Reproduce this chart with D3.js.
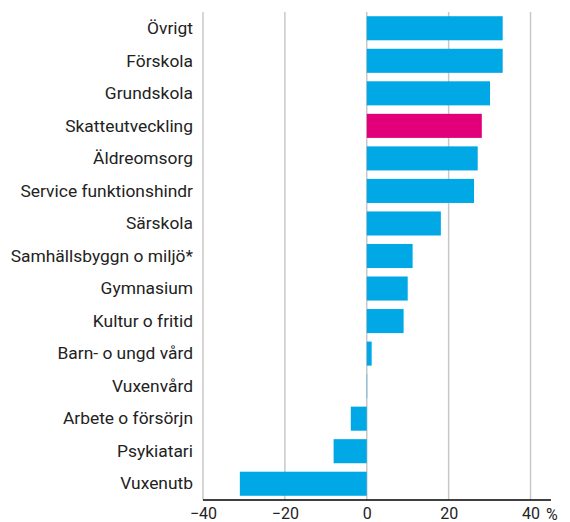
<!DOCTYPE html>
<html>
<head>
<meta charset="utf-8">
<script src="https://cdn.jsdelivr.net/npm/d3@7"></script>
<style>
  body { margin: 0; background: #fff; }
  .chart text { font-family: Roboto, sans-serif; fill: #222; }
</style>
</head>
<body>
<div class="chart"></div>
<script>
let categories = ['Övrigt', 'Förskola', 'Grundskola', 'Skatteutveckling', 'Äldreomsorg',
  'Service funktionshindr', 'Särskola', 'Samhällsbyggn o miljö*', 'Gymnasium',
  'Kultur o fritid', 'Barn- o ungd vård', 'Vuxenvård', 'Arbete o försörjn',
  'Psykiatari', 'Vuxenutb'];
let values = [33.2, 33.2, 30.1, 28.1, 27.1, 26.2, 18.1, 11.2, 10.0, 9.0, 1.2, 0.1, -3.9, -8.1, -31.0];
let highlight = 'Skatteutveckling';
let tickValues = [-40, -20, 0, 20, 40];

let width = 570;
let height = 522;
let plotLeft = 203, plotRight = 551, plotTop = 12, plotBottom = 500;

let svg = d3.select('.chart')
  .append('svg')
  .attr('width', width)
  .attr('height', height);

let xScale = d3.scaleLinear()
  .domain([-40, 45])
  .range([plotLeft, plotRight]);

let yScale = d3.scaleBand()
  .domain(categories)
  .range([plotTop, plotBottom])
  .paddingInner(0.26)
  .paddingOuter(0.13);

// gridlines
svg.append('g')
  .selectAll('line')
  .data(tickValues)
  .enter()
  .append('line')
  .attr('x1', d => xScale(d))
  .attr('x2', d => xScale(d))
  .attr('y1', plotTop)
  .attr('y2', plotBottom)
  .attr('stroke', '#c8c8c8')
  .attr('stroke-width', 1.5);

// bars
svg.append('g')
  .selectAll('rect')
  .data(categories)
  .enter()
  .append('rect')
  .attr('x', (d, i) => xScale(Math.min(0, values[i])))
  .attr('width', (d, i) => Math.abs(xScale(values[i]) - xScale(0)))
  .attr('y', d => yScale(d))
  .attr('height', yScale.bandwidth())
  .attr('fill', d => d == highlight ? '#e2007a' : '#00a9e6');

// category labels
svg.append('g')
  .selectAll('text')
  .data(categories)
  .enter()
  .append('text')
  .attr('x', plotLeft - 10)
  .attr('y', d => yScale(d) + yScale.bandwidth() / 2)
  .attr('dy', '.33em')
  .style('text-anchor', 'end')
  .style('font-size', '17.4px')
  .text(d => d);

// x axis
let xAxis = d3.axisBottom(xScale)
  .tickValues(tickValues)
  .tickSize(0)
  .tickPadding(8);

let gx = svg.append('g')
  .attr('transform', 'translate(0,' + plotBottom + ')')
  .call(xAxis);
gx.select('.domain')
  .attr('d', 'M' + plotLeft + ',0H' + plotRight)
  .attr('stroke', '#000')
  .attr('stroke-width', 1.5);
gx.selectAll('text')
  .style('font-size', '16px')
  .style('font-family', 'Roboto, sans-serif')
  .attr('fill', '#222');

svg.append('text')
  .attr('x', 546)
  .attr('y', 519.5)
  .style('font-size', '16px')
  .text('%');
</script>
</body>
</html>
